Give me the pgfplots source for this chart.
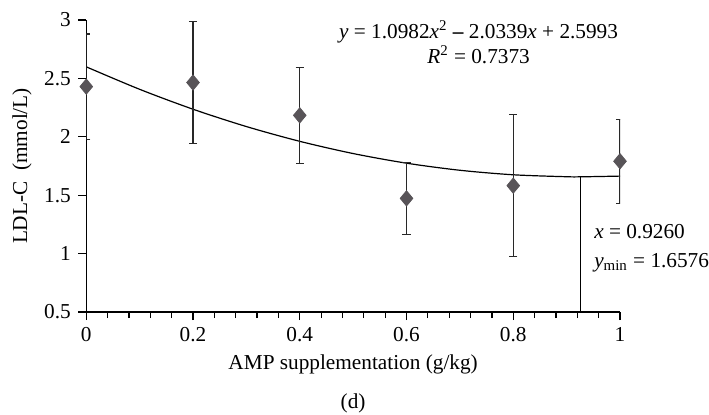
\documentclass[border=0pt]{standalone}
\usepackage{pgfplots}
\pgfplotsset{compat=1.18}
\usepackage{fontspec}
\setmainfont{Liberation Serif}
\definecolor{markgray}{RGB}{88,84,88}
\definecolor{bargray}{RGB}{40,40,40}
\begin{document}
\fontsize{10.6}{12.5}\selectfont
\begin{tikzpicture}
\begin{axis}[
    scale only axis,
    width=266pt, height=145.5pt,
    xmin=0, xmax=1, ymin=0.5, ymax=3,
    axis lines=left,
    axis line style={-, line width=0.6pt},
    xtick={0,0.2,0.4,0.6,0.8,1},
    ytick={0.5,1,1.5,2,2.5,3},
    minor x tick num=4,
    tick align=outside,
    major tick length=4pt, minor tick length=3pt,
    tick style={black, line width=0.6pt},
    xticklabels={0,0.2,0.4,0.6,0.8,1},
    yticklabels={0.5,1,1.5,2,2.5,3},
    xlabel={AMP supplementation (g/kg)},
    ylabel={LDL-C\ \ (mmol/L)},
    xlabel style={yshift=1pt},
    ylabel shift=-1pt,
    tick label style={font=\fontsize{10.6}{12.5}\selectfont},
    label style={font=\fontsize{10.6}{12.5}\selectfont},
    clip mode=individual,
]
% quadratic fit curve
\addplot[black, line width=0.6pt, smooth] coordinates {
    (0,2.5993) (0.1,2.4069) (0.2,2.2364) (0.3,2.0880) (0.4,1.9615) (0.5,1.8569)
    (0.6,1.7743) (0.7,1.7137) (0.8,1.6750) (0.9,1.6583) (0.926,1.6576) (1,1.6636)};
% minimum marker line
\addplot[black, line width=0.6pt] coordinates {(0.926,0.5) (0.926,1.6576)};
% means with error bars
\addplot[only marks, mark=diamond*, mark size=3.8pt, mark options={xscale=1.1}, color=markgray,
    error bars/.cd, y dir=both, y explicit,
    error bar style={bargray, line width=0.6pt},
    error mark options={rotate=90, mark size=2.1pt, bargray, line width=0.6pt}]
    coordinates {
    (0,2.43) +- (0,0.45)
    (0.2,2.465) +- (0,0.52)
    (0.4,2.184) +- (0,0.41)
    (0.6,1.473) +- (0,0.31)
    (0.8,1.582) +- (0,0.61)
    (1,1.791) +- (0,0.36)};
\node[align=center, inner sep=0pt] at (rel axis cs:0.735,0.924)
    {\textit{y} = 1.0982\textit{x}\textsuperscript{2} \textbf{--} 2.0339\textit{x} + 2.5993\\[0pt]
     \textit{R}\textsuperscript{2} = 0.7373};
\node[align=left, anchor=west, inner sep=0pt] at (rel axis cs:0.951,0.218)
    {\textit{x} = 0.9260\\[2pt] \textit{y}\textsubscript{min} = 1.6576};
\node[inner sep=0pt] at ([yshift=-45.5pt]rel axis cs:0.5,0) {(d)};
\path ([yshift=10pt]rel axis cs:0.5,1) ([yshift=-51pt]rel axis cs:0.5,0)
      ([xshift=-43pt]rel axis cs:0,0.5);
\end{axis}
\end{tikzpicture}
\end{document}
